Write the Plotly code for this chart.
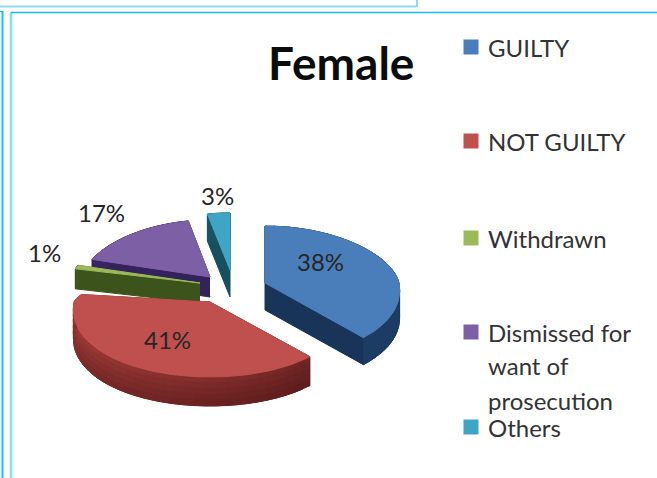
import numpy as np
import plotly.graph_objects as go

W, H = 657, 478
categories = ["GUILTY", "NOT GUILTY", "Withdrawn", "Dismissed for", "Others"]
extra_lines = {3: ["want of", "prosecution"]}
values = [38, 41, 1, 17, 3]
labels = ["38%", "41%", "1%", "17%", "3%"]

top_colors = ["#4a7ebb", "#c0504d", "#9bbb59", "#7d5fa6", "#3fa5c4"]
side_dark = [(24, 52, 88), (92, 28, 28), (60, 84, 28), (52, 34, 92), (22, 80, 96)]
side_light = [(32, 68, 110), (172, 66, 62), (66, 92, 30), (60, 40, 104), (26, 90, 108)]

apex = [(265, 283), (210, 302), (200, 283), (210, 277), (230, 270)]
depth = [27, 29, 20, 20, 27]
draw_order = [4, 3, 2, 0, 1]
rx_slice = [134, 136, 132, 128, 134]
ry_back = [57, 30, 57, 57, 57]
RY_FRONT = 75
PERSPECTIVE = 0.1

label_pos = [(320, 261), (167, 339), (44, 252), (101, 212), (217, 195)]
legend_y = [47, 141, 238, 332, 427]
extra_y = {3: [365, 400]}

fig = go.Figure()


def project(i, theta):
    cx, cy = apex[i]
    u, v = np.sin(theta), -np.cos(theta)
    ry = np.where(v > 0, RY_FRONT, ry_back[i])
    return cx + rx_slice[i] * (1 + PERSPECTIVE * v) * u, cy + ry * v


def poly(x, y, color):
    fig.add_trace(go.Scatter(x=list(x), y=list(y), mode="lines", fill="toself", fillcolor=color,
                             line=dict(color=color, width=1), hoverinfo="skip", showlegend=False))


cum = np.cumsum([0] + values) / sum(values) * 2 * np.pi
for i in draw_order:
    a0, a1 = cum[i], cum[i + 1]
    cx, cy = apex[i]
    d = depth[i]
    th = np.linspace(a0, a1, 80)
    ex, ey = project(i, th)
    for a in (a0, a1):
        px, py = project(i, a)
        poly([cx, px, px, cx], [cy, py, py + d, cy + d], "rgb(%d,%d,%d)" % side_dark[i])
    n = 36
    levels = 5 if i == 1 else 1
    edges = np.linspace(a0, a1, n + 1)
    for j in range(n):
        t = np.linspace(edges[j], edges[min(j + 2, n)], 4)
        tx, ty = project(i, t)
        for l in range(levels):
            if i == 1:
                # red rim: darker at its right end and lower edge
                f = (j / n) * 0.75 + 0.25 * (1 - l / levels)
                f = float(np.clip(f * (1 - 0.35 * l / levels), 0, 1))
            else:
                f = 0.5
            col = tuple(int(side_light[i][k] * f + side_dark[i][k] * (1 - f)) for k in range(3))
            y0 = ty + d * l / levels
            y1 = ty + d * (l + 1) / levels
            poly(np.r_[tx, tx[::-1]], np.r_[y0, y1[::-1]], "rgb(%d,%d,%d)" % col)
    poly(np.r_[cx, ex, cx], np.r_[cy, ey, cy], top_colors[i])

for (x, y), t in zip(label_pos, labels):
    fig.add_annotation(x=x, y=y, text=t, showarrow=False, font=dict(family="Lato", size=24, color="#262626"))

fig.add_annotation(x=341, y=62, text="<b>Female</b>", showarrow=False,
                   font=dict(family="Lato", size=46, color="#0c0c0c"))

for i, (y, c, t) in enumerate(zip(legend_y, top_colors, categories)):
    fig.add_trace(go.Scatter(x=[471], y=[y], mode="markers", hoverinfo="skip", showlegend=False,
                             marker=dict(symbol="square", size=15, color=c)))
    fig.add_annotation(x=486, y=y, text=t, showarrow=False, xanchor="left", yanchor="middle", align="left",
                       font=dict(family="Lato", size=24, color="#333333"))
    for ly, lt in zip(extra_y.get(i, []), extra_lines.get(i, [])):
        fig.add_annotation(x=486, y=ly, text=lt, showarrow=False, xanchor="left", yanchor="middle", align="left",
                           font=dict(family="Lato", size=24, color="#333333"))

bright, pale = "#14bdf5", "#8fd9f5"
for s, c, w in [((0, 6.5, 417, 6.5), pale, 2), ((417, 0, 417, 7), pale, 2),
                ((0, 11.5, 3, 11.5), bright, 1), ((2.5, 11, 2.5, 478), bright, 2),
                ((11, 12, 11, 478), pale, 2.5), ((11, 12.5, 657, 12.5), bright, 1.5)]:
    fig.add_shape(type="line", x0=s[0], y0=s[1], x1=s[2], y1=s[3], line=dict(color=c, width=w))

fig.update_layout(width=W, height=H, margin=dict(l=0, r=0, t=0, b=0), paper_bgcolor="white", plot_bgcolor="white",
                  showlegend=False,
                  xaxis=dict(range=[0, W], visible=False, fixedrange=True),
                  yaxis=dict(range=[H, 0], visible=False, fixedrange=True))
fig.write_html("out.html", config=dict(displayModeBar=False),
               post_script="document.body.style.margin='0';document.body.style.overflow='hidden';")
